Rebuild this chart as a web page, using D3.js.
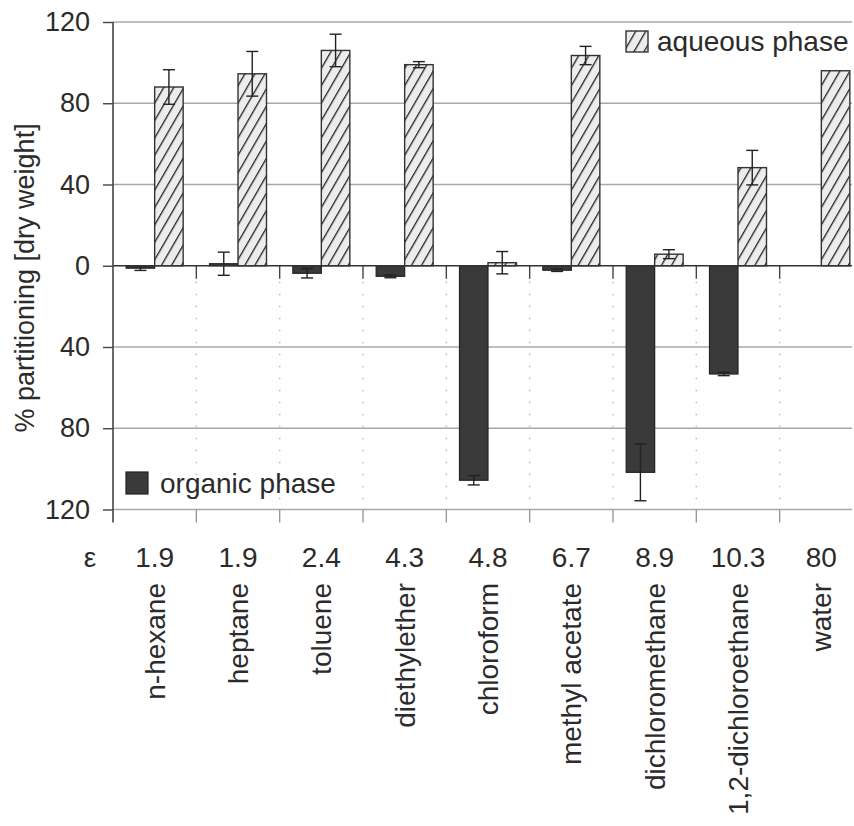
<!DOCTYPE html>
<html>
<head>
<meta charset="utf-8">
<script src="https://cdn.jsdelivr.net/npm/d3@7"></script>
<style>
  body { margin: 0; background: #fff; }
  text { font-family: "Liberation Sans", Arial, sans-serif; fill: #2b2b2b; }
</style>
</head>
<body>
<div id="chart"></div>
<script>
// solvents, dielectric constants, partitioning values (% dry weight)
var categories = ["n-hexane", "heptane", "toluene", "diethylether", "chloroform",
    "methyl acetate", "dichloromethane", "1,2-dichloroethane", "water"];
var epsilon = ["1.9", "1.9", "2.4", "4.3", "4.8", "6.7", "8.9", "10.3", "80"];
var organic = [-1.2, 1, -3.7, -5.2, -105.6, -2.2, -101.7, -53.3, null];
var organicErr = [1.1, 5.7, 2.3, 0.7, 2.3, 0.6, 14, 0.8, null];
var aqueous = [88, 94.5, 106, 99, 1.5, 103.5, 5.7, 48.3, 96];
var aqueousErr = [8.5, 11, 8, 1.5, 5.5, 4.5, 2.2, 8.5, null];
var yTicks = [-120, -80, -40, 0, 40, 80, 120];

var width = 854, height = 826;

var svg = d3.select("#chart").append("svg")
    .attr("width", width)
    .attr("height", height);

var x = d3.scaleBand()
    .domain(categories)
    .range([113, 863]);

var y = d3.scaleLinear()
    .domain([-120, 120])
    .range([509.5, 22]);

var bw = x.bandwidth();
var x1 = d3.scaleBand()
    .domain(["organic", "aqueous"])
    .range([bw / 2 - 28.5, bw / 2 + 28.5]);

// hatch pattern for the aqueous bars
var defs = svg.append("defs");
var pat = defs.append("pattern")
    .attr("id", "hatch")
    .attr("patternUnits", "userSpaceOnUse")
    .attr("width", 8.7)
    .attr("height", 8.7)
    .attr("patternTransform", "rotate(30)");
pat.append("rect").attr("width", 8.7).attr("height", 8.7).attr("fill", "#ececec");
pat.append("line")
    .attr("x1", 0).attr("y1", 0).attr("x2", 0).attr("y2", 8.7)
    .attr("stroke", "#222").attr("stroke-width", 2.6);

// gridlines
svg.append("g").selectAll("line")
    .data(yTicks.filter(function (d) { return d !== 0; }))
    .enter().append("line")
    .attr("x1", 113).attr("x2", 852)
    .attr("y1", function (d) { return y(d); })
    .attr("y2", function (d) { return y(d); })
    .attr("stroke", "#a8a8a8")
    .attr("stroke-width", 1.4);

// dotted separators below the zero line
var bounds = categories.slice(1).map(function (c) { return x(c); });
svg.append("g").selectAll("line")
    .data(bounds)
    .enter().append("line")
    .attr("x1", function (d) { return d; })
    .attr("x2", function (d) { return d; })
    .attr("y1", y(0) + 16)
    .attr("y2", y(-120) - 6)
    .attr("stroke", "#bdbdbd")
    .attr("stroke-width", 1.5)
    .attr("stroke-dasharray", "1.5,10.5");

// short ticks under the zero line and under the bottom line
svg.append("g").selectAll("line")
    .data(bounds)
    .enter().append("line")
    .attr("x1", function (d) { return d; })
    .attr("x2", function (d) { return d; })
    .attr("y1", y(0))
    .attr("y2", y(0) + 13)
    .attr("stroke", "#444")
    .attr("stroke-width", 1.4);

svg.append("g").selectAll("line")
    .data(bounds)
    .enter().append("line")
    .attr("x1", function (d) { return d; })
    .attr("x2", function (d) { return d; })
    .attr("y1", y(-120))
    .attr("y2", y(-120) + 13)
    .attr("stroke", "#999")
    .attr("stroke-width", 1.4);

// bars
var groups = svg.append("g").selectAll("g")
    .data(categories)
    .enter().append("g")
    .attr("transform", function (d) { return "translate(" + x(d) + ",0)"; });

groups.filter(function (d, i) { return organic[i] !== null; })
    .append("rect")
    .attr("x", x1("organic"))
    .attr("width", x1.bandwidth())
    .attr("y", function (d) { var v = organic[categories.indexOf(d)]; return y(Math.max(0, v)); })
    .attr("height", function (d) { var v = organic[categories.indexOf(d)]; return Math.abs(y(v) - y(0)); })
    .attr("fill", "#3a3a3a")
    .attr("stroke", "#222")
    .attr("stroke-width", 1.2);

groups.append("rect")
    .attr("x", x1("aqueous"))
    .attr("width", x1.bandwidth())
    .attr("y", function (d) { return y(aqueous[categories.indexOf(d)]); })
    .attr("height", function (d) { return y(0) - y(aqueous[categories.indexOf(d)]); })
    .attr("fill", "url(#hatch)")
    .attr("stroke", "#333")
    .attr("stroke-width", 1.4);

// error bars
function errorBars(vals, errs, key) {
    var data = categories.map(function (c, i) {
        return { c: c, v: vals[i], e: errs[i] };
    }).filter(function (d) { return d.e !== null; });
    var g = svg.append("g").selectAll("g")
        .data(data)
        .enter().append("g")
        .attr("transform", function (d) {
            return "translate(" + (x(d.c) + x1(key) + x1.bandwidth() / 2) + ",0)";
        })
        .attr("stroke", "#222")
        .attr("stroke-width", 1.4);
    g.append("line")
        .attr("y1", function (d) { return y(d.v + d.e); })
        .attr("y2", function (d) { return y(d.v - d.e); });
    g.append("line")
        .attr("x1", -6).attr("x2", 6)
        .attr("y1", function (d) { return y(d.v + d.e); })
        .attr("y2", function (d) { return y(d.v + d.e); });
    g.append("line")
        .attr("x1", -6).attr("x2", 6)
        .attr("y1", function (d) { return y(d.v - d.e); })
        .attr("y2", function (d) { return y(d.v - d.e); });
}
errorBars(organic, organicErr, "organic");
errorBars(aqueous, aqueousErr, "aqueous");

// zero line
svg.append("line")
    .attr("x1", 113).attr("x2", 852)
    .attr("y1", y(0)).attr("y2", y(0))
    .attr("stroke", "#333")
    .attr("stroke-width", 1.6);

// y axis
var yAxis = svg.append("g")
    .attr("transform", "translate(113,0)")
    .call(d3.axisLeft(y).tickValues(yTicks).tickFormat(function (d) { return Math.abs(d); }).tickSize(10).tickPadding(13));
yAxis.select(".domain").remove();
yAxis.selectAll(".tick line").attr("stroke", "#444").attr("stroke-width", 1.4);
yAxis.selectAll("text")
    .style("font-size", "27px")
    .attr("fill", "#2b2b2b")
    .attr("font-family", null);
svg.append("line")
    .attr("x1", 113).attr("x2", 113)
    .attr("y1", y(120)).attr("y2", y(-120) + 13)
    .attr("stroke", "#444")
    .attr("stroke-width", 1.6);

svg.append("text")
    .attr("transform", "translate(34," + y(-6) + ") rotate(-90)")
    .attr("text-anchor", "middle")
    .style("font-size", "27px")
    .text("% partitioning [dry weight]");

// dielectric constants row
svg.append("text")
    .attr("x", 90).attr("y", 567)
    .attr("text-anchor", "middle")
    .style("font-size", "28px")
    .text("ε");
svg.append("g").selectAll("text")
    .data(categories)
    .enter().append("text")
    .attr("x", function (d) { return x(d) + bw / 2; })
    .attr("y", 567)
    .attr("text-anchor", "middle")
    .style("font-size", "28px")
    .text(function (d, i) { return epsilon[i]; });

// solvent names
svg.append("g").selectAll("text")
    .data(categories)
    .enter().append("text")
    .attr("transform", function (d) {
        return "translate(" + (x(d) + bw / 2 + 10) + ",583) rotate(-90)";
    })
    .attr("text-anchor", "end")
    .style("font-size", "28px")
    .text(function (d) { return d; });

// legends
svg.append("rect")
    .attr("x", 626).attr("y", 31).attr("width", 22).attr("height", 21)
    .attr("fill", "url(#hatch)").attr("stroke", "#333").attr("stroke-width", 1.4);
svg.append("text")
    .attr("x", 657).attr("y", 51)
    .style("font-size", "28px")
    .text("aqueous phase");

svg.append("rect")
    .attr("x", 126).attr("y", 472).attr("width", 22).attr("height", 22)
    .attr("fill", "#3a3a3a").attr("stroke", "#222").attr("stroke-width", 1.2);
svg.append("text")
    .attr("x", 160).attr("y", 493)
    .style("font-size", "28px")
    .text("organic phase");
</script>
</body>
</html>
